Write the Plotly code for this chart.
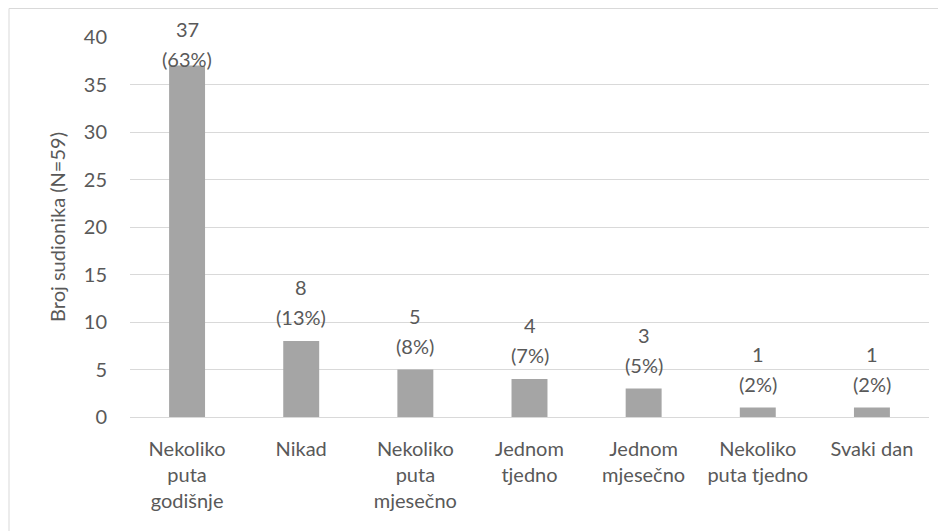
import plotly.graph_objects as go

categories = ["Nekoliko<br>puta<br>godišnje", "Nikad", "Nekoliko<br>puta<br>mjesečno",
              "Jednom<br>tjedno", "Jednom<br>mjesečno", "Nekoliko<br>puta tjedno", "Svaki dan"]
counts = [37, 8, 5, 4, 3, 1, 1]
percents = ["63%", "13%", "8%", "7%", "5%", "2%", "2%"]
y_ticks = [0, 5, 10, 15, 20, 25, 30, 35, 40]

FONT = "Lato, 'Open Sans', sans-serif"
GREY = "#595959"
FS = 20

W, H = 946, 531
# page body adds an 8px offset; compensate
ml, mt = 122, 29
pw, ph = 799, 380
mr, mb = W - ml - pw, H - mt - ph
YMAX = 40

xs = list(range(len(categories)))
fig = go.Figure(go.Bar(
    x=xs, y=counts,
    marker=dict(color="#a5a5a5", line=dict(width=0)),
    cliponaxis=False, width=0.315, hoverinfo="x+y",
))

# data labels: count line and percent line, Excel-like spacing, clamped to chart top
annotations = []
MIN_CENTER = 21  # figure px: highest allowed center of the top label line
for x, c, p in zip(xs, counts, percents):
    top_px = mt + ph * (1 - c / YMAX)
    pct_off = 24
    cnt_off = 54
    if top_px - cnt_off < MIN_CENTER:
        shift = MIN_CENTER - (top_px - cnt_off)
        pct_off -= shift
        cnt_off -= shift
    annotations.append(dict(x=x, y=c, xref="x", yref="y", text=str(c), showarrow=False,
                            yanchor="middle", yshift=cnt_off,
                            font=dict(family=FONT, size=FS, color=GREY)))
    annotations.append(dict(x=x, y=c, xref="x", yref="y", text=f"({p})", showarrow=False,
                            yanchor="middle", yshift=pct_off,
                            font=dict(family=FONT, size=FS, color=GREY)))

fig.update_layout(
    width=W, height=H, margin=dict(l=ml, r=mr, t=mt, b=mb, autoexpand=False),
    paper_bgcolor="white", plot_bgcolor="white",
    font=dict(family=FONT, size=FS, color=GREY),
    showlegend=False,
    annotations=annotations,
    xaxis=dict(tickmode="array", tickvals=xs, ticktext=categories,
               range=[-0.5, len(categories) - 0.5], showgrid=False, zeroline=False,
               showline=False, ticks="", ticklabelstandoff=18,
               tickfont=dict(size=FS, color=GREY), automargin=False),
    yaxis=dict(range=[0, YMAX], tickvals=y_ticks, showgrid=True, gridcolor="#d9d9d9",
               gridwidth=1, zeroline=True, zerolinecolor="#d9d9d9", zerolinewidth=1,
               ticks="", ticklabelstandoff=22, tickfont=dict(size=FS, color=GREY), automargin=False,
               title=dict(text="Broj sudionika (N=59)", font=dict(size=FS, color=GREY), standoff=12)),
    shapes=[dict(type="rect", xref="paper", yref="paper",
                 x0=(1 - ml) / pw, x1=(W + 20 - ml) / pw,
                 y0=(H - mb - (H + 20)) / ph, y1=(H - mb - 0.5) / ph,
                 line=dict(color="#d9d9d9", width=1), fillcolor="rgba(0,0,0,0)", layer="below")],
)

fig.write_html("out.html")
